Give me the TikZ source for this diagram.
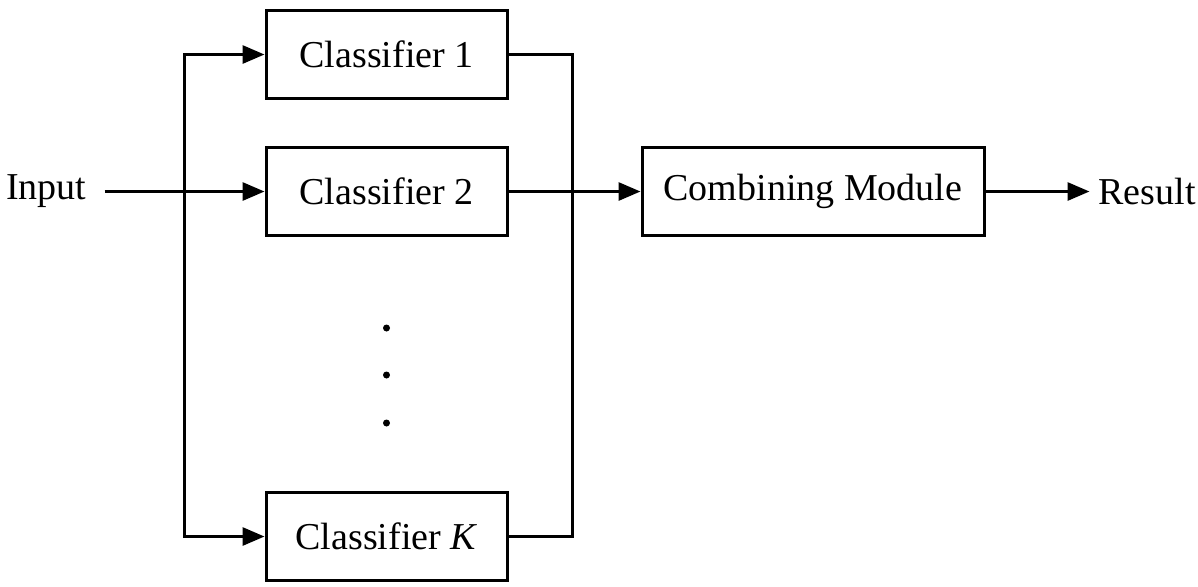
\documentclass[tikz,border=0pt]{standalone}
\usepackage{fontspec}
\setmainfont{Liberation Serif}
\usetikzlibrary{arrows.meta}
\usetikzlibrary{positioning}

\begin{document}
\begin{tikzpicture}[%
            x=0.5pt,y=-0.5pt,
            line width=1.5pt,
            font=\fontsize{19}{23}\selectfont,
            >={Triangle[length=11pt,width=9pt]},
            classifier/.style={%
              draw,
              minimum width=120.5pt,
              minimum height=44pt,
              inner sep=0pt,
            },
            label/.style={inner sep=0pt},
          ]
            \useasboundingbox (0,0) rectangle (1198,586);

            \node [classifier] (c1) at (386.5,54.5) {Classifier 1};
            \node [classifier,below=23pt of c1] (c2) {Classifier 2};
            \node [classifier,below=127pt of c2] (ck) {Classifier \emph{K}};
            \node [%
              classifier,
              minimum width=171pt,
              right=66pt of c2,
            ] (combining) {Combining Module};

            \node [label,outer sep=9pt,left=80pt of c2] (input) {Input};
            \node [label,outer sep=4.5pt,right=52pt of combining] (result) {Result};

            \coordinate [left=40pt of c2] (split);
            \coordinate [right=32pt of c2] (merge);

            \draw [->] (input) -- (c2);
            \draw [->] (split) |- (c1.west);
            \draw [->] (split) |- (ck.west);
            \draw (c1.east) -| (merge) |- (ck.east);
            \draw [->] (c2) -- (combining);
            \draw [->] (combining) -- (result);

            \foreach \y in {328,375,423}
              \fill (386.5,\y) circle (1.75pt);
          \end{tikzpicture}
\end{document}
